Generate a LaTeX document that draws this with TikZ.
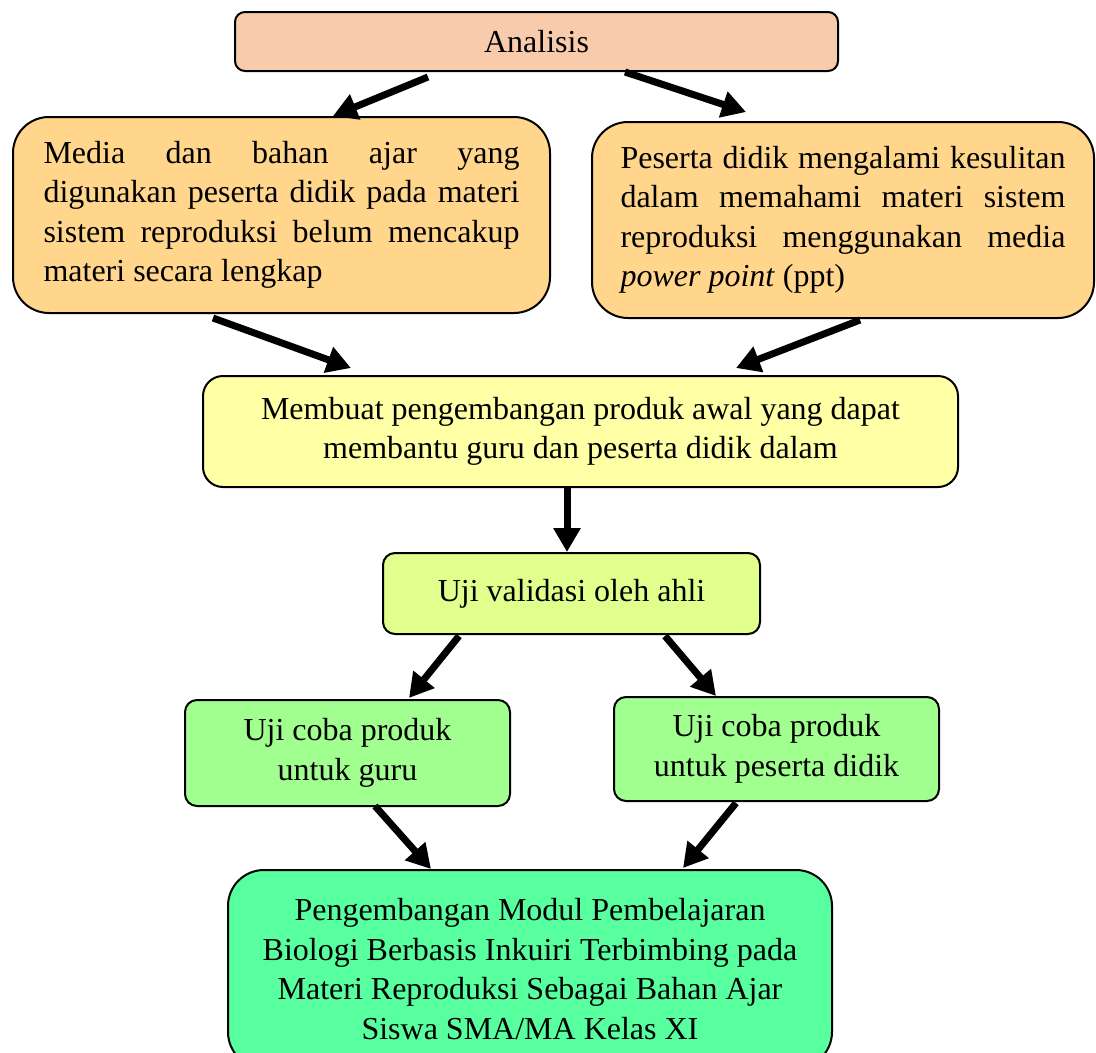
\documentclass[tikz,border=0pt]{standalone}
\usepackage{fontspec}
\setmainfont{Liberation Serif}
\usetikzlibrary{arrows.meta}
\definecolor{cAnal}{HTML}{F8CBAD}
\definecolor{cOrange}{HTML}{FFD68C}
\definecolor{cYellow}{HTML}{FFFFA6}
\definecolor{cLime}{HTML}{E1FF8C}
\definecolor{cGreen}{HTML}{A0FF8F}
\definecolor{cMint}{HTML}{57FF9F}
\tikzset{
  box/.style={draw=black, line width=2pt, rectangle, inner sep=0pt,
    font=\fontsize{32}{39.5}\selectfont},
  flow/.style={line width=7pt, -{Triangle[length=24pt,width=26pt]}, shorten >=0pt}
}
\begin{document}
\begin{tikzpicture}[x=1pt,y=-1pt]
\useasboundingbox (0,0) rectangle (1096,1053);
\node[box, fill=cAnal, rounded corners=10pt, minimum width=603pt, minimum height=59pt] (anal) at (536.5,41.5) {Analisis};
\node[box, fill=cOrange, rounded corners=36pt, minimum width=537pt, minimum height=196pt, text width=476pt, align=justify] (left) at (281.5,215) {Media dan bahan ajar yang\linebreak digunakan peserta didik pada materi\linebreak sistem reproduksi belum mencakup\linebreak materi secara lengkap};
\node[box, fill=cOrange, rounded corners=36pt, minimum width=502pt, minimum height=196pt, text width=445pt, align=justify] (right) at (843,220) {Peserta didik mengalami kesulitan\linebreak dalam memahami materi sistem\linebreak reproduksi menggunakan media\linebreak \textit{power point} (ppt)};
\node[box, fill=cYellow, rounded corners=20pt, minimum width=755pt, minimum height=111pt, align=center] (yel) at (580.5,431.5) {Membuat pengembangan produk awal yang dapat\\membantu guru dan peserta didik dalam};
\node[box, fill=cLime, rounded corners=12pt, minimum width=377pt, minimum height=81pt] (uji) at (571.5,593.5) {Uji validasi oleh ahli};
\node[box, fill=cGreen, rounded corners=12pt, minimum width=325pt, minimum height=106pt, align=center] (gl) at (347.5,753) {Uji coba produk\\untuk guru};
\node[box, fill=cGreen, rounded corners=12pt, minimum width=325pt, minimum height=104pt, align=center] (gr) at (776.5,749) {Uji coba produk\\untuk peserta didik};
\node[box, fill=cMint, rounded corners=36pt, minimum width=604pt, minimum height=198pt, align=center] (fin) at (530,969) {Pengembangan Modul Pembelajaran\\Biologi Berbasis Inkuiri Terbimbing pada\\Materi Reproduksi Sebagai Bahan Ajar\\Siswa SMA/MA Kelas XI};
% arrow ends
\coordinate (a1s) at (428,77);  \coordinate (a1e) at (333,116);
\coordinate (a2s) at (625,72);  \coordinate (a2e) at (746,112);
\coordinate (a3s) at (213,318); \coordinate (a3e) at (351,368);
\coordinate (a4s) at (860,320); \coordinate (a4e) at (736,368);
\coordinate (a5s) at (567,488); \coordinate (a5e) at (567,552);
\coordinate (a6s) at (459,636); \coordinate (a6e) at (409,698);
\coordinate (a7s) at (665,636); \coordinate (a7e) at (716,696);
\coordinate (a8s) at (375,806); \coordinate (a8e) at (431,869);
\coordinate (a9s) at (736,803); \coordinate (a9e) at (683,868);
\draw[flow] (a1s) -- (a1e);
\draw[flow] (a2s) -- (a2e);
\draw[flow] (a3s) -- (a3e);
\draw[flow] (a4s) -- (a4e);
\draw[flow] (a5s) -- (a5e);
\draw[flow] (a6s) -- (a6e);
\draw[flow] (a7s) -- (a7e);
\draw[flow] (a8s) -- (a8e);
\draw[flow] (a9s) -- (a9e);
\end{tikzpicture}
\end{document}
